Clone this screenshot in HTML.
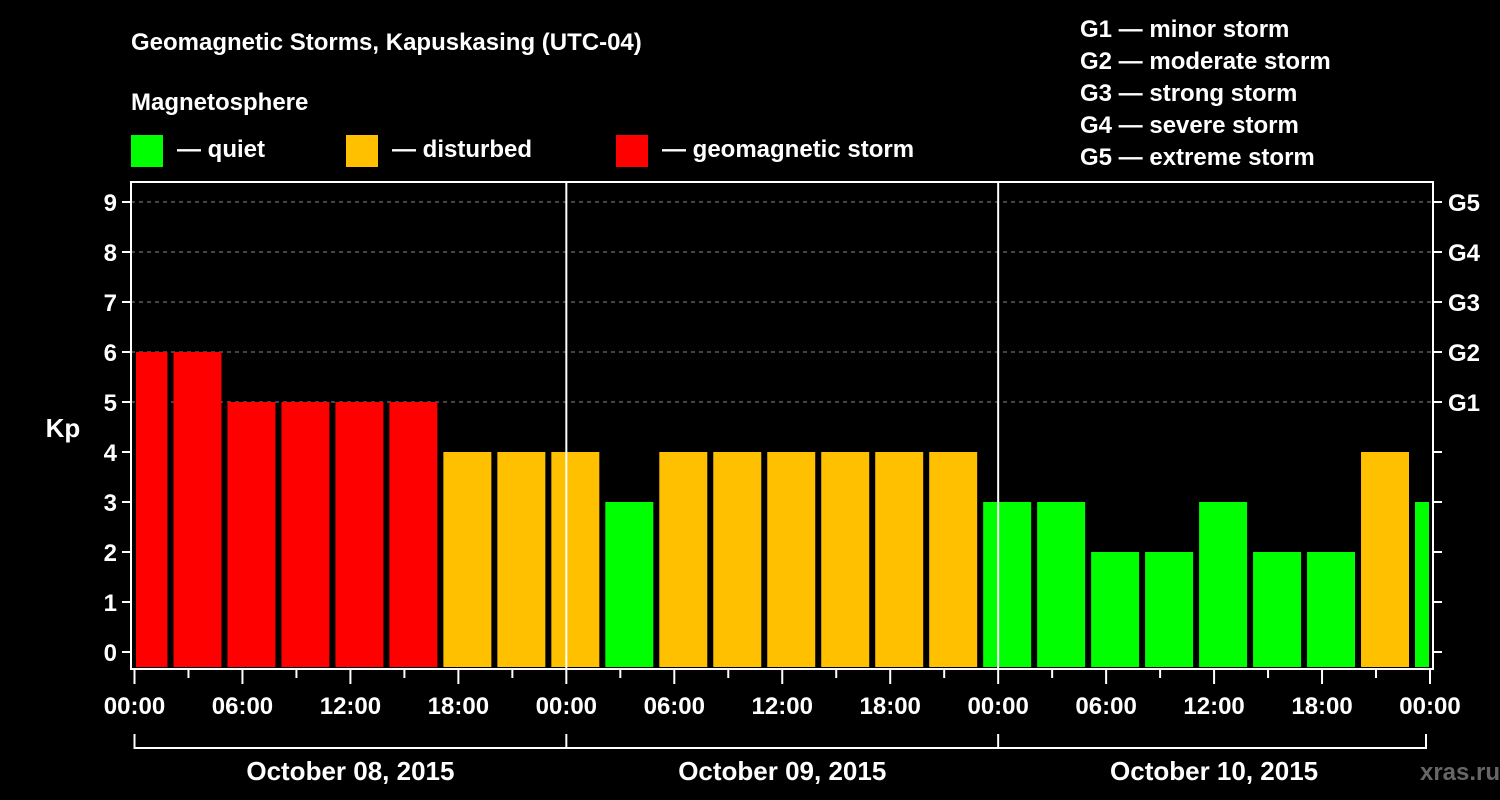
<!DOCTYPE html>
<html><head><meta charset="utf-8"><style>
html,body{margin:0;padding:0;background:#000;}
svg{display:block;font-family:"Liberation Sans",Arial,sans-serif;font-weight:bold;}
</style></head><body>
<svg id="c" width="1500" height="800" viewBox="0 0 1500 800">
<rect width="1500" height="800" fill="#000"/>
<text x="131" y="50" fill="#fff" font-size="24">Geomagnetic Storms, Kapuskasing (UTC-04)</text>
<text x="131" y="110" fill="#fff" font-size="24">Magnetosphere</text>
<g><rect x="131" y="135" width="32" height="32" fill="#00ff00"/><text x="177" y="157" fill="#fff" font-size="24">— quiet</text></g>
<g><rect x="346" y="135" width="32" height="32" fill="#ffc000"/><text x="392" y="157" fill="#fff" font-size="24">— disturbed</text></g>
<g><rect x="616" y="135" width="32" height="32" fill="#ff0000"/><text x="662" y="157" fill="#fff" font-size="24">— geomagnetic storm</text></g>
<g fill="#fff" font-size="24">
<text x="1080" y="37">G1 — minor storm</text>
<text x="1080" y="69">G2 — moderate storm</text>
<text x="1080" y="101">G3 — strong storm</text>
<text x="1080" y="133">G4 — severe storm</text>
<text x="1080" y="165">G5 — extreme storm</text>
</g>
<text x="63" y="437" fill="#fff" font-size="26" text-anchor="middle">Kp</text>
<text x="1460" y="780" fill="#666" font-size="24" text-anchor="middle">xras.ru</text>
<g id="plot"></g>
</svg>
<script>
const values = [6,6,5,5,5,5,4,4,4, 3,4,4,4,4,4,4, 3,3,2,2,3,2,2,4,3];
const firstCenterHour = 0.5;
const stepHours = 3;
const yTicks = [0,1,2,3,4,5,6,7,8,9];
const gLabels = ["G1","G2","G3","G4","G5"];
const gLevels = [5,6,7,8,9];
const xTickLabels = ["00:00","06:00","12:00","18:00","00:00","06:00","12:00","18:00","00:00","06:00","12:00","18:00","00:00"];
const dayLabels = ["October 08, 2015","October 09, 2015","October 10, 2015"];

const NS="http://www.w3.org/2000/svg";
const L=131,R=1433,T=182,B=669;
const X0=134.5, PXH=(1430-134.5)/72;
const x=h=>X0+h*PXH;
const y=v=>652-v*50;
const g=document.getElementById('plot');
function mk(tag,attrs,parent){const e=document.createElementNS(NS,tag);for(const k in attrs)e.setAttribute(k,attrs[k]);(parent||g).appendChild(e);return e;}

// grid
gLevels.forEach(v=>{
  const e=mk('line',{x1:L,x2:R,y1:y(v),y2:y(v),stroke:'#888','stroke-dasharray':'4,4','stroke-width':1});
  
  
});
// bars
const bw=48*PXH/18;
values.forEach((v,i)=>{
  const c=x(firstCenterHour+i*stepHours);
  let x1=Math.max(c-bw/2,L+5), x2=Math.min(c+bw/2,R-4);
  const col=v>=5?'#ff0000':(v>=4?'#ffc000':'#00ff00');
  const e=mk('rect',{x:x1,y:y(v),width:x2-x1,height:667-y(v),fill:col});
  
  
});
// day separators
[1,2].forEach(d=>{
  const e=mk('line',{x1:x(d*24),x2:x(d*24),y1:T,y2:B,stroke:'#fff','stroke-width':2});
  
  
});
// frame
const f=mk('rect',{x:L,y:T,width:R-L,height:B-T,fill:'none',stroke:'#fff','stroke-width':2});


// y ticks
yTicks.forEach(v=>{
  mk('line',{x1:L-9,x2:L,y1:y(v),y2:y(v),stroke:'#fff','stroke-width':2});
  mk('line',{x1:R,x2:R+9,y1:y(v),y2:y(v),stroke:'#fff','stroke-width':2});
  const t=mk('text',{x:L-14,y:y(v)+9,fill:'#fff','font-size':24,'text-anchor':'end'});
  t.textContent=v;
  
  
});
gLabels.forEach((s,i)=>{
  const t=mk('text',{x:R+15,y:y(gLevels[i])+9,fill:'#fff','font-size':24});
  t.textContent=s;
  
  
});
// x ticks
for(let h=0;h<=72;h+=3){
  const long=h%6===0;
  mk('line',{x1:x(h),x2:x(h),y1:B,y2:B+(long?15:9),stroke:'#fff','stroke-width':2});
}
xTickLabels.forEach((s,i)=>{
  const t=mk('text',{x:x(i*6),y:714,fill:'#fff','font-size':24,'text-anchor':'middle'});
  t.textContent=s;
  
  
});
// day brackets
mk('line',{x1:x(0),x2:x(72)-4,y1:748,y2:748,stroke:'#fff','stroke-width':2});
for(let d=0;d<=3;d++){
  const xx=d===3?x(72)-4:x(d*24);
  mk('line',{x1:xx,x2:xx,y1:734,y2:749,stroke:'#fff','stroke-width':2});
}
dayLabels.forEach((s,i)=>{
  const t=mk('text',{x:x(i*24+12),y:780,fill:'#fff','font-size':26,'text-anchor':'middle'});
  t.textContent=s;
  
  
});
</script>
</body></html>
